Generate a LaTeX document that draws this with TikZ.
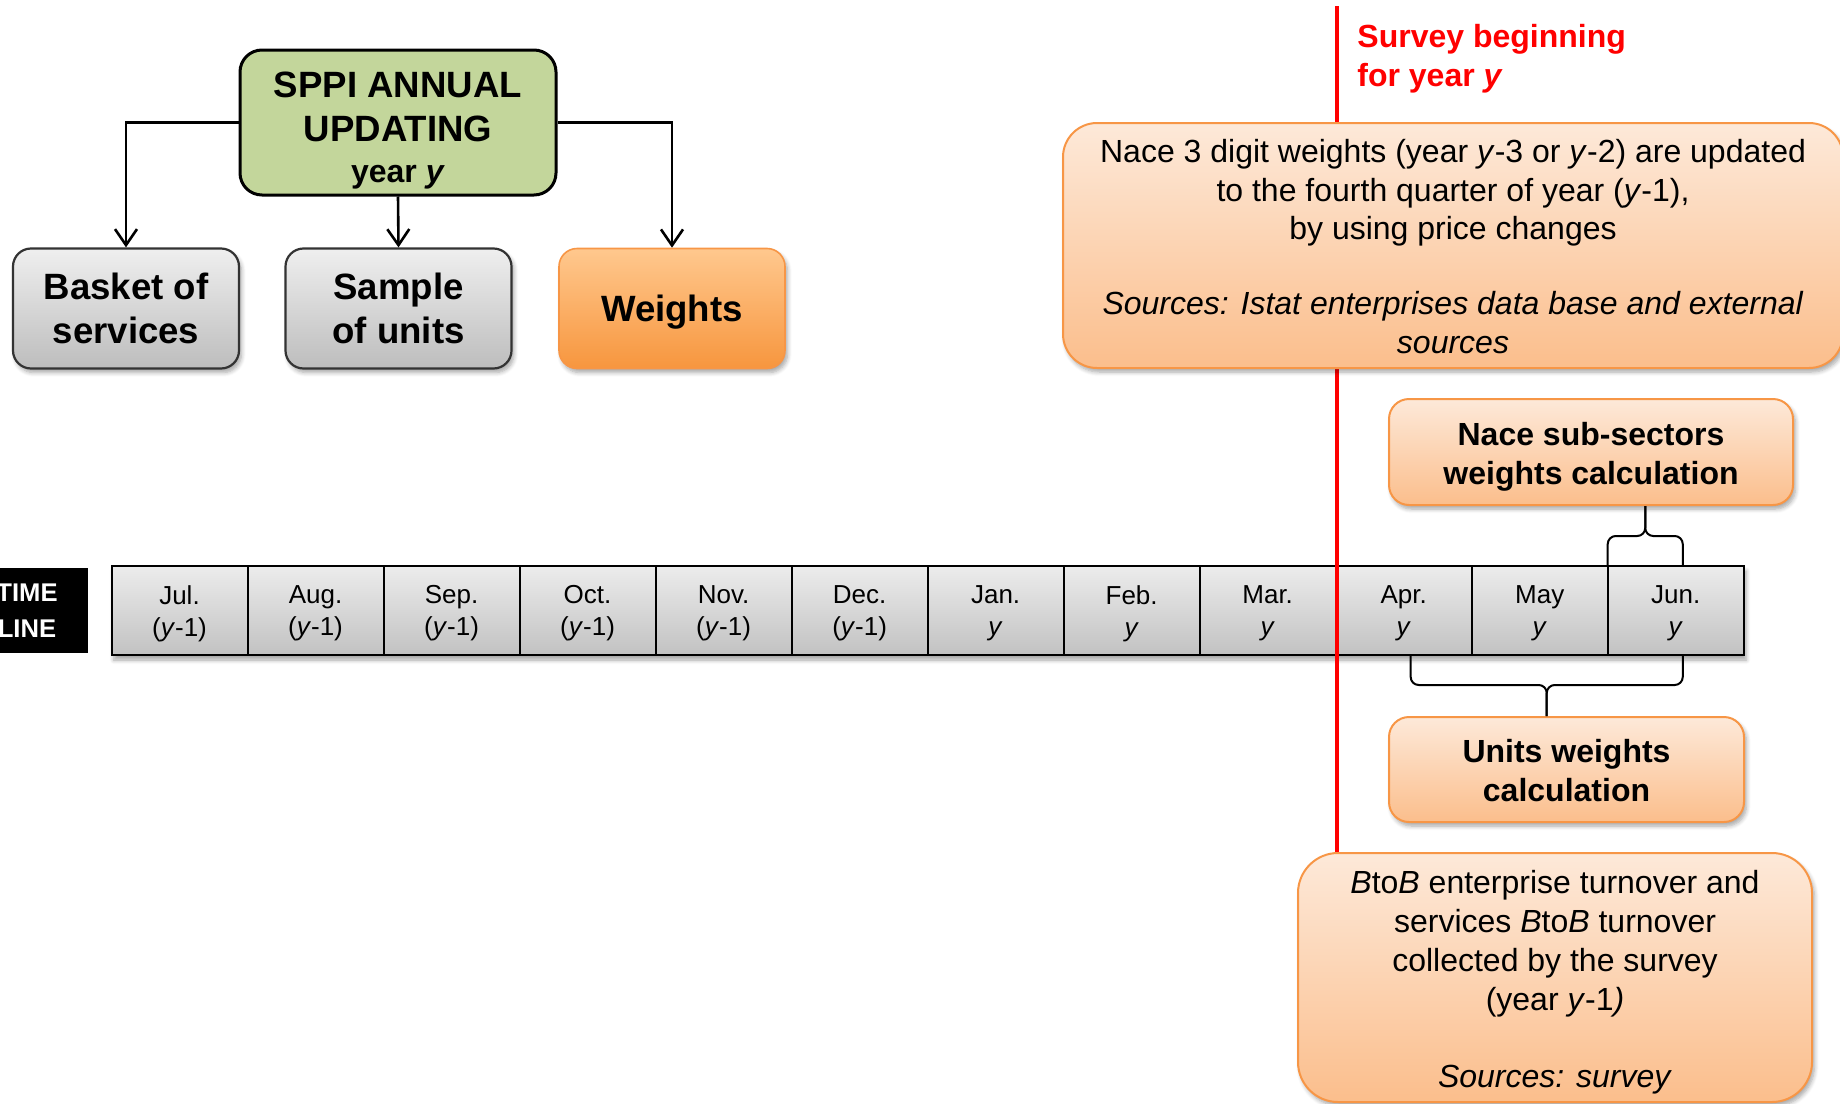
\documentclass[tikz,border=0pt]{standalone}
\usepackage{fontspec}
\setmainfont{Liberation Sans}
\usetikzlibrary{calc,arrows.meta,shadows.blur}

\definecolor{headgreen}{HTML}{C3D69B}
\definecolor{greytop}{HTML}{EFEFEF}
\definecolor{greybot}{HTML}{BDBDBD}
\definecolor{celltop}{HTML}{ECECEC}
\definecolor{cellbot}{HTML}{C2C2C2}
\definecolor{wtop}{HTML}{FFC88E}
\definecolor{wbot}{HTML}{F7963E}
\definecolor{ltop}{HTML}{FDE9D9}
\definecolor{lbot}{HTML}{FBBE8C}
\definecolor{oedge}{HTML}{F79646}
\definecolor{surveyred}{HTML}{FF0000}

\newcommand\setfs[2]{\fontsize{#1}{#2}\selectfont}

\tikzset{
  softshadow/.style={blur shadow={shadow xshift=1.2pt, shadow yshift=-2pt,
      shadow blur steps=6, shadow opacity=35}},
  headbox/.style={draw=black, line width=1.5pt, rounded corners=11pt,
      fill=headgreen, minimum width=158pt, minimum height=72.5pt,
      inner sep=0pt},
  greybox/.style={draw=black!80, line width=1.1pt, rounded corners=9pt,
      top color=greytop, bottom color=greybot, minimum width=113pt,
      minimum height=60pt, align=center, inner sep=0pt,
      font=\setfs{18.3}{22.3}\bfseries, softshadow},
  weightbox/.style={greybox, draw=oedge, line width=0.8pt,
      top color=wtop, bottom color=wbot},
  notebox/.style={draw=oedge, line width=1pt, top color=ltop,
      bottom color=lbot, inner sep=0pt, softshadow},
  notetext/.style={align=center, inner sep=0pt, font=\setfs{16}{19.4}},
  cell/.style={draw=black, line width=1pt, top color=celltop,
      bottom color=cellbot, minimum width=68.01pt, minimum height=44.5pt,
      inner sep=0pt, outer sep=0pt},
  celltext/.style={align=center, inner sep=0pt, font=\setfs{13}{16}},
  link/.style={line width=1.3pt,
      -{Straight Barb[length=8pt,width=11pt,line width=1.3pt]}},
  bracepath/.style={line width=1pt, rounded corners=4pt},
  redline/.style={line width=2.4pt, draw=surveyred},
}

\begin{document}
\begin{tikzpicture}[x=0.5pt,y=-0.5pt]
\clip (0,0) rectangle (1840,1103);
\useasboundingbox (0,0) rectangle (1840,1103);

% annual updating tree
\node[headbox] (head) at (398,122.5) {};
\node[align=center, inner sep=0pt, font=\setfs{18.3}{22.3}\bfseries]
  (headtxt) at ($(head.center)+(0,8)$)
  {SPPI ANNUAL\\
   UPDATING\\[-1.8pt]
   \setfs{16}{19.5}\bfseries year \textit{y}};
\node[greybox] (basket) at (126,308.5) {Basket of\\services};
\node[greybox] (sample) at (398.5,308.5) {Sample\\of units};
\node[weightbox] (weights) at (672,308.5) {};
\node[font=\setfs{18.3}{22.3}\bfseries, inner sep=0pt] (weightstxt)
  at ($(weights.center)+(0,4)$) {Weights};

\draw[link] (head.west) -| (basket.north);
\draw[link] (head.south) -- (sample.north);
\draw[link] (head.east) -| (weights.north);

% time line
\node[fill=black, text=white, minimum width=61pt, minimum height=42.5pt,
  inner sep=0pt, align=center, font=\setfs{12.8}{17.8}\bfseries]
  (tl) at (27,610.5) {TIME\\LINE};

\path[blur shadow={shadow xshift=1.2pt, shadow yshift=-2.5pt,
    shadow blur steps=6, shadow opacity=35}]
  (111.5,566) rectangle (1743.8,655);

\foreach \monthtxt/\yeartxt [count=\i from 0] in
  {Jul./(\textit{y}-1), Aug./(\textit{y}-1), Sep./(\textit{y}-1),
   Oct./(\textit{y}-1), Nov./(\textit{y}-1), Dec./(\textit{y}-1),
   Jan./\textit{y}, Feb./\textit{y}, Mar./\textit{y},
   Apr./\textit{y}, May/\textit{y}, Jun./\textit{y}}
  {
  \node[cell] (c\i) at ({111.5+136.02*(\i+0.5)},610.5) {};
  \node[celltext] (t\i) at ($(c\i.center)+(0,3)$) {\monthtxt\\\yeartxt};
  }

% survey start
\coordinate (rtop) at (1337,6);
\coordinate (rbot) at (1337,856);
\draw[redline] (rtop) -- (rbot);
\node[anchor=north west, text=surveyred, font=\setfs{16}{19.4}\bfseries,
  align=left, inner sep=0pt] (survey) at (1357,24)
  {Survey beginning\\for year \textit{y}};

% notes
\node[notebox, rounded corners=17pt, minimum width=390pt,
  minimum height=122.5pt] (nace3) at (1453,245.5) {};
\node[notetext] (nace3txt) at ($(nace3.center)+(0,1)$)
  {Nace 3 digit weights (year \textit{y}-3 or \textit{y}-2) are updated\\
   to the fourth quarter of year (\textit{y}-1),\\
   by using price changes\\[18pt]
   \textit{Sources: Istat enterprises data base and external}\\
   \textit{sources}};

\node[notebox, rounded corners=10pt, minimum width=202pt,
  minimum height=53pt] (nace) at (1591,452) {};
\node[notetext, font=\setfs{16}{19.4}\bfseries] (nacetxt)
  at ($(nace.center)+(0,5)$) {Nace sub-sectors\\weights calculation};

\node[notebox, rounded corners=10pt, minimum width=177.5pt,
  minimum height=52.5pt] (units) at (1566.5,769.5) {};
\node[notetext, font=\setfs{16}{19.4}\bfseries] (unitstxt)
  at ($(units.center)+(0,1)$) {Units weights\\calculation};

\node[notebox, rounded corners=20pt, minimum width=257pt,
  minimum height=124.5pt] (btob) at (1555,977.5) {};
\node[notetext] (btobtxt) at ($(btob.center)+(0,5)$)
  {\textit{B}to\textit{B} enterprise turnover and\\
   services \textit{B}to\textit{B} turnover\\
   collected by the survey\\
   (year \textit{y}-1\textit{)}\\[19.4pt]
   \textit{Sources: survey}};

% braces
\coordinate (tbL) at (c11.north west);
\coordinate (tbR) at ($(c11.north)+(7,0)$);
\coordinate (tbM) at ($(tbL)!0.5!(tbR)+(0,-30)$);
\draw[bracepath] (tbL) |- (tbM) -- (tbM |- nace.south);
\draw[bracepath] (tbR) |- (tbM) -- (tbM |- nace.south);

\coordinate (bbL) at ($(c9.south)+(7,0)$);
\coordinate (bbR) at ($(c11.south)+(7,0)$);
\coordinate (bbM) at ($(bbL)!0.5!(bbR)+(0,30)$);
\draw[bracepath] (bbL) |- (bbM) -- (bbM |- units.north);
\draw[bracepath] (bbR) |- (bbM) -- (bbM |- units.north);
\end{tikzpicture}
\end{document}
